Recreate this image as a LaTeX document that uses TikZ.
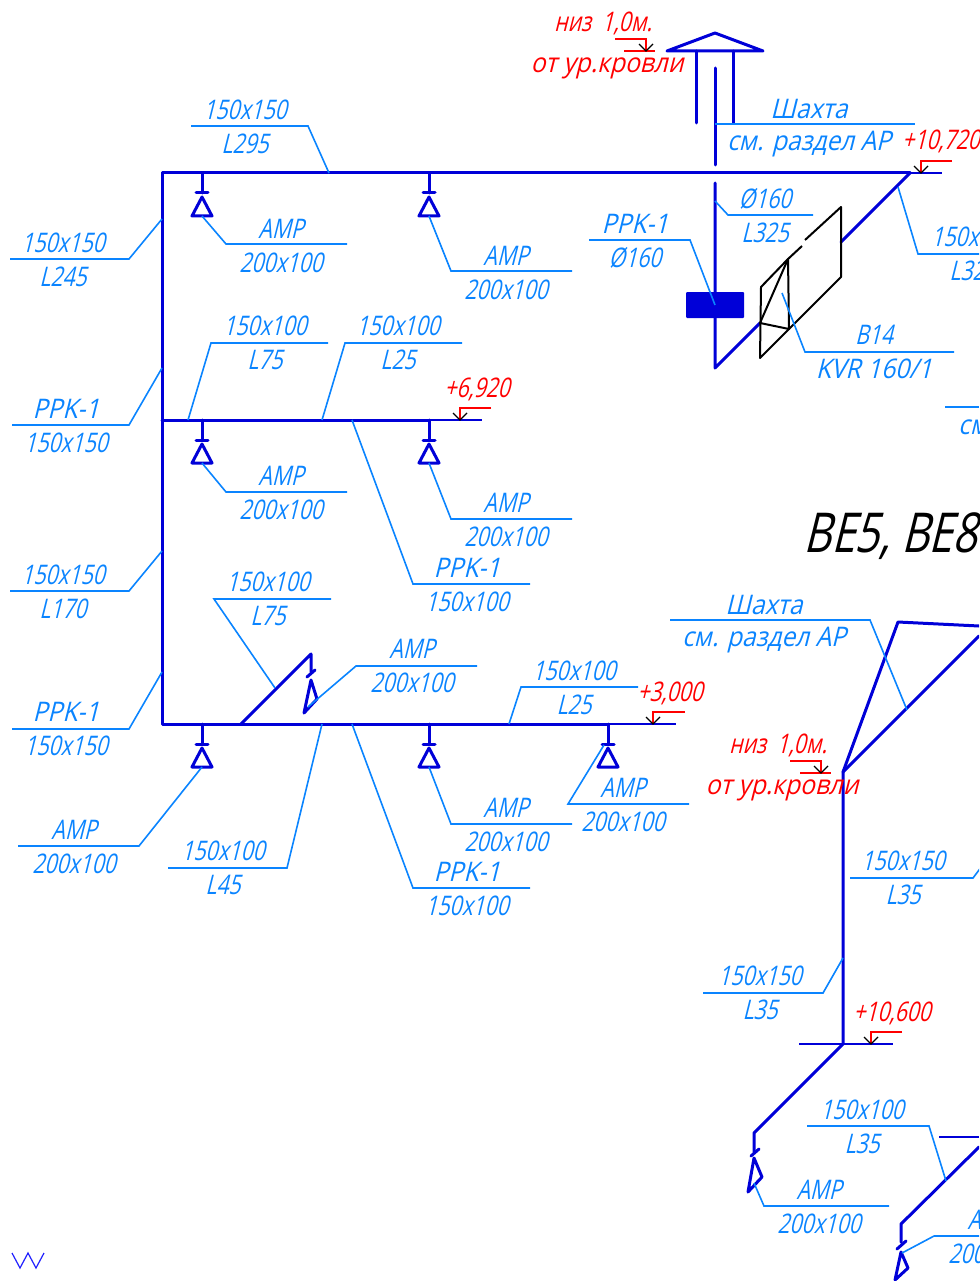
\documentclass[tikz,border=0pt]{standalone}
\usepackage{fontspec}
\newfontfamily\cadfont[FakeSlant=0.25,FakeStretch=0.78]{Open Sans}
\newfontfamily\cadwide[FakeSlant=0.25,FakeStretch=0.91]{Open Sans}
\definecolor{duct}{HTML}{0000D8}
\definecolor{lead}{HTML}{0A84FF}
\definecolor{mark}{HTML}{FF0000}
\definecolor{signc}{HTML}{2020FF}
\tikzset{
  ductline/.style={draw=duct,line width=3pt,line join=round,line cap=round},
  thinduct/.style={draw=duct,line width=1.3pt},
  leader/.style={draw=lead,line width=1.6pt,line join=miter},
  blackline/.style={draw=black,line width=2pt,line join=round},
  marker/.style={draw=mark,line width=1.6pt},
  tick/.style={draw=black,line width=1.3pt},
  labtext/.style={text=lead,font=\cadfont\fontsize{27}{27}\selectfont,inner sep=0pt,anchor=center},
  redtext/.style={text=mark,font=\cadfont\fontsize{27}{27}\selectfont,inner sep=0pt,anchor=center},
  bigtext/.style={text=black,font=\cadfont\fontsize{55}{55}\selectfont,inner sep=0pt,anchor=west},
}
% label pair: name, x centre, shelf y, top, bottom
\newcommand{\lab}[5]{%
  \node[labtext] (#1t) at (#2-2,#3-16) {#4};
  \node[labtext] (#1b) at (#2-2,#3+18) {#5};}
% level mark: x, base y, right end of flag
\newcommand{\lev}[3]{%
  \draw[marker] (#3,#2-12) -- (#1,#2-12) -- (#1,#2-1);
  \draw[tick] (#1-7,#2-7) -- (#1,#2) -- (#1+7,#2-7);}
% vertical diffuser below a duct: x, duct y
\newcommand{\diff}[2]{%
  \draw[ductline] (#1,#2) -- (#1,#2+20);
  \draw[ductline] (#1-6,#2+20) -- (#1+6,#2+20);
  \draw[ductline] (#1,#2+24) -- (#1-10,#2+43) -- (#1+10,#2+43) -- cycle;}
\newcommand{\rpk}{{\cadwide PPK-1}}
\begin{document}
\begin{tikzpicture}[x=1pt,y=-1pt]
\useasboundingbox (0,0) rectangle (979,1281);
\clip (0,0) rectangle (979,1281);
% --- upper system ducts
\draw[ductline] (910,173) -- (162,173) -- (162,724) -- (608,724);
\draw[ductline] (162,420) -- (429,420);
\draw[thinduct] (910,173) -- (942,173);
\draw[thinduct] (429,420) -- (482,420);
\draw[thinduct] (608,724) -- (676,724);
\draw[ductline] (910,173) -- (841,242);
\draw[ductline] (760,323) -- (715,368) -- (715,183);
\draw[ductline] (715,165) -- (715,68);
\draw[ductline] (667,51) -- (715,33) -- (763,51) -- cycle;
\draw[ductline] (696,51) -- (696,123);
\draw[ductline] (733,51) -- (733,123);
\fill[duct,rounded corners=1pt] (686,292) rectangle (744,318);
% --- grille
\draw[blackline] (805,240) -- (841,207) -- (841,277) -- (760,358) -- (761,287) -- (788,259) -- (802,246);
\draw[blackline] (788,259) -- (789,329) -- (760,323) -- cycle;
% --- diffusers
\diff{202}{173}\diff{429}{173}
\diff{202}{420}\diff{429}{420}
\diff{202}{724}\diff{429}{724}\diff{608}{724}
% --- side branch in lower line
\draw[ductline] (241,724) -- (311,654) -- (311,672);
\draw[ductline] (307,677) -- (315,670);
\draw[ductline] (311,680) -- (304,713) -- (317,699) -- cycle;
% --- leaders, upper system
\draw[leader] (329,173) -- (308,126) -- (191,126);
\draw[leader] (162,219) -- (129,259) -- (10,259);
\draw[leader] (202,216) -- (226,244) -- (347,244);
\draw[leader] (429,216) -- (451,271) -- (572,271);
\draw[leader] (162,368) -- (129,425) -- (12,425);
\draw[leader] (188,420) -- (211,343) -- (328,343);
\draw[leader] (322,420) -- (345,343) -- (462,343);
\draw[leader] (202,463) -- (226,492) -- (347,492);
\draw[leader] (429,463) -- (451,519) -- (572,519);
\draw[leader] (352,420) -- (413,584) -- (530,584);
\draw[leader] (162,551) -- (129,591) -- (10,591);
\draw[leader] (275,688) -- (214,599) -- (331,599);
\draw[leader] (308,707) -- (356,666) -- (477,666);
\draw[leader] (509,724) -- (521,687) -- (638,687);
\draw[leader] (162,672) -- (129,729) -- (12,729);
\draw[leader] (202,767) -- (139,846) -- (18,846);
\draw[leader] (322,724) -- (287,868) -- (168,868);
\draw[leader] (429,767) -- (451,824) -- (572,824);
\draw[leader] (352,724) -- (413,888) -- (530,888);
\draw[leader] (604,745) -- (568,804) -- (689,804);
\draw[leader] (715,124) -- (915,124);
\draw[leader] (715,201) -- (728,215) -- (813,215);
\draw[leader] (589,240) -- (690,240) -- (715,305);
\draw[leader] (782,293) -- (805,352) -- (954,352);
\draw[leader] (898,187) -- (918,254) -- (979,254);
\draw[leader] (945,407) -- (979,407);
% --- labels, upper system
\lab{a}{247}{126}{150x150}{L295}
\lab{b}{65}{259}{150x150}{L245}
\lab{c}{283}{245}{AMP}{200x100}
\lab{d}{508}{272}{AMP}{200x100}
\lab{e}{68}{425}{\rpk}{150x150}
\lab{f}{267}{342}{150x100}{L75}
\lab{g}{400}{342}{150x100}{L25}
\lab{h}{283}{492}{AMP}{200x100}
\lab{i}{508}{519}{AMP}{200x100}
\lab{j}{469}{584}{\rpk}{150x100}
\lab{k}{65}{591}{150x150}{L170}
\lab{l}{270}{598}{150x100}{L75}
\lab{m}{414}{665}{AMP}{200x100}
\lab{n}{576}{687}{150x100}{L25}
\lab{o}{68}{728}{\rpk}{150x150}
\lab{p}{76}{846}{AMP}{200x100}
\lab{q}{225}{867}{150x100}{L45}
\lab{r}{508}{824}{AMP}{200x100}
\lab{s}{469}{888}{\rpk}{150x100}
\lab{t}{625}{804}{AMP}{200x100}
\node[labtext] (ut) at (809,109) {{\cadwide Шахта}};
\node[labtext] (ub) at (809,144) {{\cadwide см. раздел АР}};
\lab{v}{767}{215}{Ø160}{L325}
\lab{w}{637}{240}{\rpk}{Ø160}
\lab{x}{876}{351}{B14}{{\cadwide KVR 160/1}}
\lab{y}{975}{253}{150x150}{L325}
\node[labtext,anchor=west] (z) at (958,428) {{\cadwide см. раздел АР}};
% --- level marks, upper system
\node[redtext,anchor=west] (r1) at (902,141) {+10,720};
\lev{921}{173}{952}
\node[redtext] (r2) at (477,389) {+6,920};
\lev{460}{420}{491}
\node[redtext] (r3) at (670,693) {+3,000};
\lev{653}{724}{685}
\node[redtext] (r4) at (603,23) {низ\hspace{5pt} 1,0м.};
\node[redtext] (r5) at (607,68) {{\cadwide от ур.кровли}};
\draw[marker] (615,39) -- (646,39) -- (646,50);
\draw[marker] (624,51) -- (655,51);
\draw[tick] (639,44) -- (646,51) -- (653,44);
% --- title
\node[bigtext] (title) at (803,536) {BE5, BE8};
% --- lower system
\draw[ductline] (979,626) -- (898,622) -- (843,772) -- (843,1044) -- (754,1133) -- (754,1152);
\draw[ductline] (843,772) -- (979,636);
\draw[thinduct] (799,1044) -- (893,1044);
\draw[ductline] (751,1156) -- (759,1149);
\draw[ductline] (754,1158) -- (748,1192) -- (762,1177) -- cycle;
\draw[ductline] (979,1147) -- (901,1224) -- (901,1242);
\draw[ductline] (897,1249) -- (906,1241);
\draw[ductline] (901,1252) -- (895,1280) -- (908,1268) -- cycle;
\draw[thinduct] (939,1137) -- (979,1137);
\draw[leader] (670,620) -- (870,620) -- (907,710);
\draw[leader] (850,878) -- (973,878) -- (985,862);
\draw[leader] (703,993) -- (823,993) -- (843,958);
\draw[leader] (754,1183) -- (764,1206) -- (889,1206);
\draw[leader] (807,1126) -- (929,1126) -- (946,1181);
\draw[leader] (902,1253) -- (934,1236) -- (979,1236);
\node[labtext] (aat) at (764,605) {{\cadwide Шахта}};
\node[labtext] (aab) at (764,640) {{\cadwide см. раздел АР}};
\lab{ab}{905}{877}{150x150}{L35}
\lab{ac}{762}{992}{150x150}{L35}
\lab{ad}{864}{1126}{150x100}{L35}
\lab{ae}{821}{1206}{AMP}{200x100}
\lab{af}{992}{1236}{AMP}{200x100}
\node[redtext] (r6) at (892,1013) {+10,600};
\lev{871}{1044}{902}
\node[redtext] (r7) at (778,745) {низ\hspace{5pt} 1,0м.};
\node[redtext] (r8) at (782,790) {{\cadwide от ур.кровли}};
\draw[marker] (790,761) -- (821,761) -- (821,772);
\draw[marker] (800,773) -- (831,773);
\draw[tick] (814,766) -- (821,773) -- (828,766);
% --- corner sign
\draw[draw=signc,line width=1.2pt] (12,1253) -- (20,1268) -- (28,1253) -- (36,1268) -- (44,1253);
\end{tikzpicture}
\end{document}
